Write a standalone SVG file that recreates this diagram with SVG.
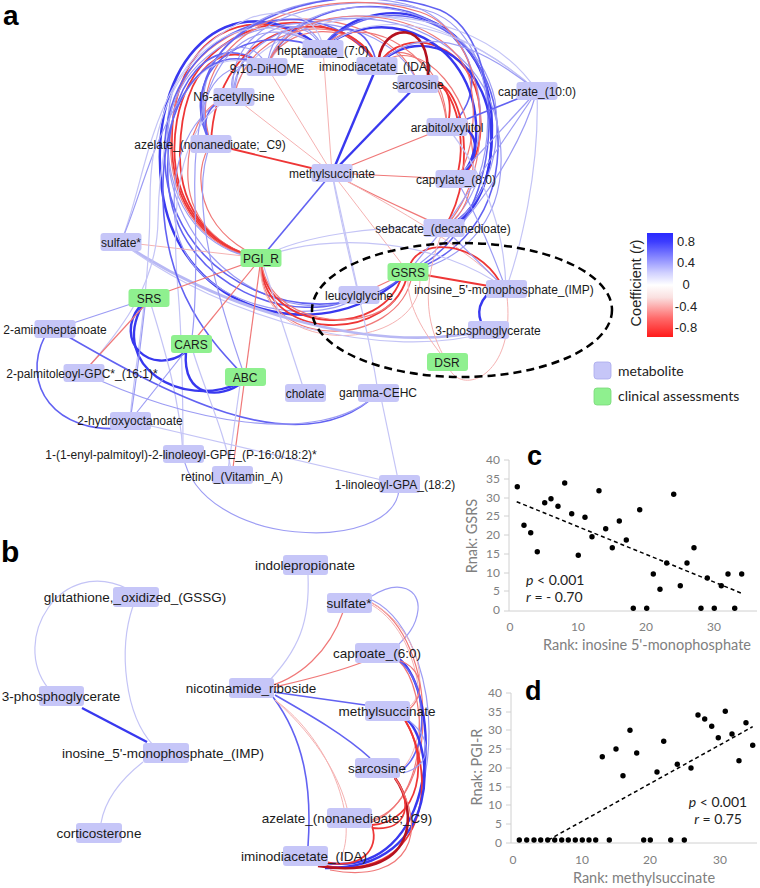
<svg xmlns="http://www.w3.org/2000/svg" width="760" height="888" viewBox="0 0 760 888">
<defs>
<linearGradient id="cb" x1="0" y1="0" x2="0" y2="1">
<stop offset="0" stop-color="#2a2aff"/>
<stop offset="0.08" stop-color="#3b3bff"/>
<stop offset="0.38" stop-color="#cfcfff"/>
<stop offset="0.5" stop-color="#ffffff"/>
<stop offset="0.62" stop-color="#fae0e0"/>
<stop offset="0.82" stop-color="#ff6a6a"/>
<stop offset="1" stop-color="#ff1a1a"/>
</linearGradient>
<style>
.m{fill:#c6c6f8}
.g{fill:#8ff08f}
.ta{font-family:"Liberation Sans",Arial,sans-serif;font-size:12px;fill:#1a1a1a;text-anchor:middle}
.tb{font-family:"Liberation Sans",Arial,sans-serif;font-size:13.5px;fill:#1a1a1a;text-anchor:middle}
.lab{font-family:"Liberation Sans",Arial,sans-serif;font-weight:bold;fill:#000}
.sc{font-family:Lato,"Open Sans",sans-serif;fill:#808080}
.lg{font-family:Lato,"Open Sans",sans-serif;font-size:14px;fill:#222}
#connectors path{fill:none}
.b3{stroke:#3838ef;stroke-width:2.4}
.b2{stroke:#6262f2;stroke-width:1.6}
.b1{stroke:#9c9cf4;stroke-width:1.2}
.b0{stroke:#c4c4f6;stroke-width:1.2}
.bw{stroke:#b8b8f4;stroke-width:2.8}
.r3{stroke:#b5121f;stroke-width:2.6}
.r2{stroke:#ee3636;stroke-width:1.8}
.r1{stroke:#f07878;stroke-width:1.2}
.r0{stroke:#f5b2b2;stroke-width:1}
.dot{fill:#000}
.ax{stroke:#d0d0d0;stroke-width:1;fill:none}
</style>
</defs>
<rect width="760" height="888" fill="#fff"/>

<g id="connectors">
<!-- panel a: left route -->
<path class="r2" d="M323,49 C255,-5 168,30 172,150 C175,220 222,254 261,258"/>
<path class="r2" d="M267,67 C225,35 182,65 180,150 C178,215 218,250 261,258"/>
<path class="r1" d="M234,97 C200,100 186,140 188,180 C191,225 226,252 261,258"/>
<path class="r2" d="M377,66 C335,-5 198,10 177,120 C163,200 210,250 261,258"/>
<path class="r1" d="M418,84 C390,-5 195,-8 174,110 C158,200 205,252 261,258"/>
<path class="r1" d="M211,144 C192,170 195,230 261,258"/>
<path class="b1" d="M323,49 C250,-15 158,35 168,150 C173,225 222,256 261,258"/>
<path class="b2" d="M267,67 C215,25 163,80 168,180 C175,290 300,330 359,295"/>
<path class="b3" d="M323,49 C230,-25 145,60 162,190 C180,320 330,350 408,272"/>
<path class="b1" d="M234,97 C190,110 170,160 175,220 C185,310 320,330 359,295"/>
<path class="b1" d="M418,84 C380,-10 180,5 168,130 C158,260 290,335 359,295"/>
<path class="b2" d="M377,66 C330,-15 175,10 165,140 C155,290 330,345 408,272"/>
<!-- PGI_R red arcs -->
<path class="r2" d="M261,258 C258,345 395,345 408,272"/>
<path class="r2" d="M261,258 C262,335 385,340 402,275"/>
<path class="r1" d="M261,258 C255,355 400,350 412,275"/>
<path class="r1" d="M261,258 C265,325 365,335 395,300"/>
<path class="r0" d="M261,258 C250,360 420,355 420,280"/>
<!-- right route -->
<path class="b3" d="M323,49 C365,-15 490,5 492,125 C493,190 470,222 444,228"/>
<path class="r2" d="M377,66 C405,20 475,45 480,110 C484,150 470,175 456,179"/>
<path class="b2" d="M267,67 C300,-15 440,-10 468,60 C480,95 460,120 447,127"/>
<path class="b1" d="M234,97 C220,15 340,-12 425,10 C505,30 505,185 444,228"/>
<path class="b1" d="M211,144 C170,35 300,-20 405,4 C485,22 500,150 456,179"/>
<path class="b2" d="M323,49 C372,-15 502,10 498,150 C495,232 440,262 408,272"/>
<path class="b0" d="M267,67 C300,-5 430,-5 537,91"/>
<path class="b0" d="M234,97 C245,10 460,-25 537,91"/>
<path class="r2" d="M418,84 C462,60 482,170 444,228"/>
<path class="r1" d="M377,66 C420,28 482,100 472,180 C467,210 455,222 444,228"/>
<path class="r1" d="M377,66 C360,18 282,22 267,67"/>
<path class="r1" d="M377,66 C355,8 250,18 234,97"/>
<path class="r2" d="M377,66 C345,-4 215,18 211,144"/>
<path class="b1" d="M323,49 C310,14 272,20 267,67"/>
<path class="b1" d="M323,49 C300,5 238,28 234,97"/>
<path class="b2" d="M323,49 C336,18 370,24 377,66"/>
<path class="r2" d="M418,84 C445,62 472,130 456,179"/>
<path class="r1" d="M377,66 C395,34 446,60 447,127"/>
<path class="r2" d="M418,84 C442,70 456,96 447,127"/>
<path class="b3" d="M323,49 C382,-2 482,40 476,140 C473,165 462,175 456,179"/>
<path class="b3" d="M377,66 C422,18 497,60 491,150 C488,200 460,222 444,228"/>
<path class="b1" d="M267,67 C290,-20 470,-15 495,100 C505,170 470,220 444,228"/>
<path class="b1" d="M234,97 C225,0 480,-30 500,140 C510,230 450,265 408,272"/>
<path class="r1" d="M211,144 C175,30 320,-20 420,12 C490,35 500,170 444,228"/>
<path class="b2" d="M211,144 C160,30 330,-30 440,10 C510,40 510,230 408,272"/>
<path class="r1" d="M323,49 C350,10 440,40 447,127"/>
<path class="r1" d="M267,67 C290,-10 450,5 470,80 C480,130 465,170 456,179"/>
<path class="r3" d="M379,58 C384,24 430,18 428,76"/>
<path class="b3" d="M447,127 C480,120 485,160 456,179"/>
<!-- left upper -->
<path class="b2" d="M211,144 C175,80 235,15 323,49"/>
<path class="b1" d="M211,144 C190,100 220,55 267,67"/>
<path class="b1" d="M234,97 C225,70 245,58 267,67"/>
<path class="b2" d="M211,144 C198,120 210,100 234,97"/>
<path class="b0" d="M121,242 C150,170 150,60 250,18 C290,5 320,20 323,49"/>
<path class="b1" d="M121,242 C145,190 160,90 230,50 C250,42 262,55 267,67"/>
<path class="bw" d="M121,242 C230,315 380,355 488,330"/>
<path class="b0" d="M121,242 C225,322 390,362 488,332"/>
<path class="r0" d="M121,242 L261,258"/>
<path class="b0" d="M323,49 C240,-10 150,60 150,200 C150,300 132,380 130,421"/>
<path class="b0" d="M267,67 C200,40 160,100 158,220 C157,300 100,350 84,373"/>
<path class="b0" d="M234,97 C180,120 170,200 178,290 C183,350 183,420 183,454"/>
<path class="b2" d="M267,67 C205,35 160,100 163,200 C166,300 220,350 245,377"/>
<path class="b1" d="M323,49 C250,0 190,60 195,200 C197,280 195,320 191,344"/>
<path class="b1" d="M211,144 C185,200 225,320 245,377"/>
<!-- SRS / lower left -->
<path class="r1" d="M149,298 L261,258"/>
<path class="b1" d="M149,298 L55,329"/>
<path class="b3" d="M140,306 C113,340 150,378 186,352"/>
<path class="b3" d="M142,306 C110,365 180,410 240,383"/>
<path class="b3" d="M186,352 C182,398 220,400 243,382"/>
<path class="b1" d="M145,306 C140,350 135,390 130,421"/>
<path class="b0" d="M149,298 C165,350 180,400 183,454"/>
<path class="r1" d="M90,365 L145,305"/>
<path class="r1" d="M261,258 L191,344"/>
<path class="r1" d="M261,258 L245,377"/>
<path class="r1" d="M245,377 L232,475"/>
<path class="b2" d="M45,336 C20,385 55,435 125,428"/>
<path class="b2" d="M55,329 C160,390 300,470 378,393"/>
<path class="b1" d="M84,373 C180,420 320,450 378,393"/>
<path class="b0" d="M130,421 L399,484"/>
<path class="b1" d="M399,490 C392,555 200,548 183,455"/>
<path class="b0" d="M399,484 L380,393"/>
<path class="b0" d="M332,173 C345,250 370,330 378,393"/>
<path class="b0" d="M261,258 L305,393"/>
<path class="b0" d="M232,475 C225,430 200,380 191,344"/>
<path class="b0" d="M228,470 L240,385"/>
<path class="b1" d="M191,344 L130,421"/>
<!-- methylsuccinate -->
<path class="r0" d="M332,173 L323,49"/>
<path class="r0" d="M332,173 L267,67"/>
<path class="r0" d="M332,173 L234,97"/>
<path class="r2" d="M332,173 L211,144"/>
<path class="b3" d="M332,173 L377,66"/>
<path class="b3" d="M332,173 L418,84"/>
<path class="r1" d="M332,173 L447,127"/>
<path class="r1" d="M332,173 L456,179"/>
<path class="r1" d="M332,173 C380,200 420,215 444,228"/>
<path class="b2" d="M332,173 L261,258"/>
<path class="b0" d="M332,173 L359,295"/>
<path class="r0" d="M332,173 L408,272"/>
<path class="r0" d="M332,173 C400,210 470,250 506,289"/>
<!-- caprate -->
<path class="b2" d="M537,91 L447,127"/>
<path class="b1" d="M537,91 L456,179"/>
<path class="b1" d="M537,91 L444,228"/>
<path class="b1" d="M537,91 C520,150 470,230 408,272"/>
<path class="b0" d="M537,91 C470,30 380,0 323,49"/>
<path class="b1" d="M537,91 C480,45 420,20 377,66"/>
<path class="b0" d="M537,91 C540,170 520,250 506,289"/>
<!-- ellipse region -->
<path class="r2" d="M408,272 L506,289"/>
<path class="r2" d="M410,265 C420,238 475,240 500,282"/>
<path class="b3" d="M492,290 C474,305 478,320 486,330"/>
<path class="r0" d="M447,362 C428,330 418,290 444,228"/>
<path class="r0" d="M447,362 C455,400 520,380 506,289"/>
<path class="r0" d="M447,362 C430,340 405,310 408,272"/>
<path class="b1" d="M444,228 L408,272"/>
<path class="b1" d="M444,228 L506,289"/>
<path class="b1" d="M456,179 C480,220 495,260 506,289"/>
<path class="b0" d="M447,127 C490,180 505,240 506,289"/>
<path class="b0" d="M261,258 C300,235 380,225 444,228"/>
<path class="b0" d="M261,258 C330,230 440,240 506,289"/>
<path class="r1" d="M359,295 L408,272"/>

<!-- panel b -->
<path class="b0" d="M128,589 C60,555 10,640 48,688"/>
<path class="b0" d="M133,606 C118,650 125,715 153,745"/>
<path class="b3" d="M82,708 L147,742"/>
<path class="b0" d="M143,762 C120,780 105,800 101,823"/>
<path class="b0" d="M308,575 C310,620 300,650 265,685"/>
<path class="r1" d="M343,612 C330,650 300,680 262,688"/>
<path class="r1" d="M363,662 C330,675 295,682 262,690"/>
<path class="b2" d="M273,692 L365,705"/>
<path class="b2" d="M275,695 C310,715 345,735 370,758"/>
<path class="b2" d="M273,697 C305,740 312,790 308,846"/>
<path class="r0" d="M275,700 C320,740 340,780 347,808"/>
<path class="r0" d="M275,700 C330,740 360,820 340,860"/>
<path class="b1" d="M372,596 C400,578 420,590 418,610 C416,628 405,638 398,645"/>
<path class="r1" d="M372,603 C440,640 440,800 372,820"/>
<path class="b1" d="M372,600 C455,640 455,890 320,862"/>
<path class="r0" d="M372,605 C430,640 430,750 400,770"/>
<path class="r0" d="M372,603 C420,630 430,690 410,706"/>
<path class="b3" d="M398,658 C442,690 445,885 320,862"/>
<path class="r1" d="M398,660 C430,690 430,800 372,822"/>
<path class="b2" d="M398,660 C428,680 430,750 402,770"/>
<path class="r1" d="M398,660 C425,668 425,698 408,710"/>
<path class="r2" d="M405,720 C440,780 425,885 320,865"/>
<path class="b3" d="M405,718 C435,740 445,870 325,868"/>
<path class="r2" d="M405,720 C430,760 420,822 372,825"/>
<path class="b1" d="M405,718 C432,735 435,765 403,773"/>
<path class="r3" d="M395,778 C418,810 420,882 318,866"/>
<path class="r2" d="M395,778 C412,800 410,832 372,828"/>
<path class="r1" d="M395,778 C430,830 410,885 330,870"/>
<path class="r2" d="M372,826 C380,850 360,870 325,862"/>
</g>

<ellipse cx="462" cy="310" rx="150" ry="67" fill="none" stroke="#000" stroke-width="2.5" stroke-dasharray="8 5"/>

<!-- panel a nodes -->
<g id="n-hep"><rect class="m" x="302.5" y="40" width="41" height="18" rx="3"/><text class="ta" x="323" y="55">heptanoate_(7:0)</text></g>
<g id="n-dih"><rect class="m" x="246.5" y="58" width="41" height="18" rx="3"/><text class="ta" x="267" y="73">9,10-DiHOME</text></g>
<g id="n-ida"><rect class="m" x="356.5" y="57" width="41" height="18" rx="3"/><text class="ta" x="375" y="71">iminodiacetate_(IDA)</text></g>
<g id="n-sar"><rect class="m" x="397.5" y="75" width="41" height="18" rx="3"/><text class="ta" x="418" y="89">sarcosine</text></g>
<g id="n-n6"><rect class="m" x="213.5" y="88" width="41" height="18" rx="3"/><text class="ta" x="234" y="101">N6-acetyllysine</text></g>
<g id="n-cap10"><rect class="m" x="516.5" y="82" width="41" height="18" rx="3"/><text class="ta" x="537" y="96">caprate_(10:0)</text></g>
<g id="n-arab"><rect class="m" x="426.5" y="118" width="41" height="18" rx="3"/><text class="ta" x="447" y="132">arabitol/xylitol</text></g>
<g id="n-aze"><rect class="m" x="190.5" y="135" width="41" height="18" rx="3"/><text class="ta" x="210" y="149">azelate_(nonanedioate;_C9)</text></g>
<g id="n-mes"><rect class="m" x="311.5" y="164" width="41" height="18" rx="3"/><text class="ta" x="332" y="178">methylsuccinate</text></g>
<g id="n-cap8"><rect class="m" x="435.5" y="170" width="41" height="18" rx="3"/><text class="ta" x="456" y="184">caprylate_(8:0)</text></g>
<g id="n-seb"><rect class="m" x="423.5" y="219" width="41" height="18" rx="3"/><text class="ta" x="443" y="233">sebacate_(decanedioate)</text></g>
<g id="n-sul"><rect class="m" x="100.5" y="233" width="41" height="18" rx="3"/><text class="ta" x="121" y="247">sulfate*</text></g>
<g id="n-pgi"><rect class="g" x="240.5" y="249" width="41" height="18" rx="3"/><text class="ta" x="261" y="263">PGI_R</text></g>
<g id="n-srs"><rect class="g" x="128.5" y="289" width="41" height="18" rx="3"/><text class="ta" x="149" y="303">SRS</text></g>
<g id="n-leu"><rect class="m" x="338.5" y="286" width="41" height="18" rx="3"/><text class="ta" x="359" y="300">leucylglycine</text></g>
<g id="n-gsrs"><rect class="g" x="387.5" y="263" width="41" height="18" rx="3"/><text class="ta" x="408" y="277">GSRS</text></g>
<g id="n-imp"><rect class="m" x="486" y="280" width="41" height="18" rx="3"/><text class="ta" x="504" y="294">inosine_5'-monophosphate_(IMP)</text></g>
<g id="n-pg3"><rect class="m" x="468" y="321" width="41" height="18" rx="3"/><text class="ta" x="488" y="335">3-phosphoglycerate</text></g>
<g id="n-dsr"><rect class="g" x="427" y="353" width="41" height="18" rx="3"/><text class="ta" x="447" y="367">DSR</text></g>
<g id="n-amh"><rect class="m" x="34.5" y="320" width="41" height="18" rx="3"/><text class="ta" x="55" y="334">2-aminoheptanoate</text></g>
<g id="n-cars"><rect class="g" x="171" y="335" width="41" height="18" rx="3"/><text class="ta" x="191" y="349">CARS</text></g>
<g id="n-palm"><rect class="m" x="63.5" y="364" width="41" height="18" rx="3"/><text class="ta" x="82" y="378">2-palmitoleoyl-GPC*_(16:1)*</text></g>
<g id="n-abc"><rect class="g" x="225" y="368" width="41" height="18" rx="3"/><text class="ta" x="245" y="382">ABC</text></g>
<g id="n-chol"><rect class="m" x="285" y="384" width="41" height="18" rx="3"/><text class="ta" x="305" y="398">cholate</text></g>
<g id="n-gam"><rect class="m" x="358" y="384" width="41" height="18" rx="3"/><text class="ta" x="378" y="397">gamma-CEHC</text></g>
<g id="n-hyd"><rect class="m" x="110" y="412" width="41" height="18" rx="3"/><text class="ta" x="130" y="425">2-hydroxyoctanoate</text></g>
<g id="n-gpe"><rect class="m" x="163" y="445" width="41" height="18" rx="3"/><text class="ta" x="181" y="459">1-(1-enyl-palmitoyl)-2-linoleoyl-GPE_(P-16:0/18:2)*</text></g>
<g id="n-ret"><rect class="m" x="212" y="466" width="41" height="18" rx="3"/><text class="ta" x="232" y="481">retinol_(Vitamin_A)</text></g>
<g id="n-gpa"><rect class="m" x="379" y="475" width="41" height="18" rx="3"/><text class="ta" x="395" y="489">1-linoleoyl-GPA_(18:2)</text></g>

<!-- panel b nodes -->
<g id="b-ind"><rect class="m" x="283" y="555" width="45" height="20" rx="3"/><text class="tb" x="305" y="570">indolepropionate</text></g>
<g id="b-sul"><rect class="m" x="327" y="593" width="45" height="20" rx="3"/><text class="tb" x="349" y="608">sulfate*</text></g>
<g id="b-cap"><rect class="m" x="355" y="643" width="45" height="20" rx="3"/><text class="tb" x="377" y="658">caproate_(6:0)</text></g>
<g id="b-nic"><rect class="m" x="229" y="678" width="45" height="20" rx="3"/><text class="tb" x="251" y="693">nicotinamide_riboside</text></g>
<g id="b-mes"><rect class="m" x="365" y="701" width="45" height="20" rx="3"/><text class="tb" x="387" y="716">methylsuccinate</text></g>
<g id="b-sar"><rect class="m" x="355" y="758" width="45" height="20" rx="3"/><text class="tb" x="377" y="773">sarcosine</text></g>
<g id="b-aze"><rect class="m" x="327" y="808" width="45" height="20" rx="3"/><text class="tb" x="347" y="823">azelate_(nonanedioate;_C9)</text></g>
<g id="b-ida"><rect class="m" x="283" y="846" width="45" height="20" rx="3"/><text class="tb" x="304" y="861">iminodiacetate_(IDA)</text></g>
<g id="b-gssg"><rect class="m" x="113" y="587" width="46" height="20" rx="3"/><text class="tb" x="135" y="602">glutathione,_oxidized_(GSSG)</text></g>
<g id="b-pg3"><rect class="m" x="39" y="686" width="45" height="20" rx="3"/><text class="tb" x="61" y="701">3-phosphoglycerate</text></g>
<g id="b-imp"><rect class="m" x="143" y="743" width="46" height="20" rx="3"/><text class="tb" x="163" y="758">inosine_5'-monophosphate_(IMP)</text></g>
<g id="b-cort"><rect class="m" x="76" y="823" width="46" height="20" rx="3"/><text class="tb" x="99" y="838">corticosterone</text></g>

<!-- panel labels -->
<text class="lab" x="3" y="25" font-size="28">a</text>
<text class="lab" x="1" y="562" font-size="30">b</text>

<!-- legend -->
<g id="legend">
<rect x="647" y="233" width="26" height="104" fill="url(#cb)"/>
<g font-family="Liberation Sans, Arial, sans-serif" font-size="13" fill="#222" text-anchor="middle">
<text x="686" y="246">0.8</text>
<text x="686" y="267">0.4</text>
<text x="686" y="289">0</text>
<text x="686" y="311">-0.4</text>
<text x="686" y="332">-0.8</text>
</g>
<text transform="translate(641,283) rotate(-90)" font-family="Liberation Sans, Arial, sans-serif" font-size="14.5" fill="#222" text-anchor="middle">Coefficient (<tspan font-style="italic">r</tspan>)</text>
<rect x="594" y="362" width="17" height="17" rx="3" class="m" stroke="#aaaaec" stroke-width="0.8"/>
<text class="lg" x="618" y="376">metabolite</text>
<rect x="594" y="388" width="17" height="17" rx="3" class="g" stroke="#78d878" stroke-width="0.8"/>
<text class="lg" x="618" y="401">clinical assessments</text>
</g>

<!-- panel c -->
<g id="plot-c">
<line class="ax" x1="509" y1="460" x2="509" y2="611"/>
<line class="ax" x1="509" y1="611" x2="757" y2="611"/>
<g stroke="#d0d0d0"><line x1="504" y1="460" x2="509" y2="460"/><line x1="504" y1="479" x2="509" y2="479"/><line x1="504" y1="498" x2="509" y2="498"/><line x1="504" y1="516" x2="509" y2="516"/><line x1="504" y1="535" x2="509" y2="535"/><line x1="504" y1="554" x2="509" y2="554"/><line x1="504" y1="573" x2="509" y2="573"/><line x1="504" y1="591" x2="509" y2="591"/><line x1="504" y1="611" x2="509" y2="611"/></g>
<g class="sc" font-size="12" text-anchor="end">
<text x="500" y="464">40</text><text x="500" y="483">35</text><text x="500" y="502">30</text><text x="500" y="520">25</text><text x="500" y="539">20</text><text x="500" y="558">15</text><text x="500" y="577">10</text><text x="500" y="595">5</text><text x="500" y="614">0</text>
</g>
<g class="sc" font-size="12" text-anchor="middle">
<text x="510" y="631">0</text><text x="578" y="631">10</text><text x="646" y="631">20</text><text x="714" y="631">30</text>
</g>
<text class="sc" font-size="14.5" fill="#707070" x="647" y="650" text-anchor="middle">Rank: inosine 5'-monophosphate</text>
<text class="sc" font-size="14.5" transform="translate(477,536) rotate(-90)" text-anchor="middle">Rnak: GSRS</text>
<text class="lab" x="527" y="465" font-size="27">c</text>
<line x1="516.7" y1="501.7" x2="741.7" y2="593.3" stroke="#000" stroke-width="1.5" stroke-dasharray="4 3"/>
<g class="dot">
<circle cx="517.3" cy="486.7" r="2.7"/><circle cx="524" cy="525.3" r="2.7"/><circle cx="530.7" cy="532.7" r="2.7"/><circle cx="537.3" cy="551.7" r="2.7"/><circle cx="544.7" cy="502.7" r="2.7"/><circle cx="551" cy="498.7" r="2.7"/><circle cx="558" cy="506.3" r="2.7"/><circle cx="564.7" cy="483" r="2.7"/><circle cx="571.7" cy="513.7" r="2.7"/><circle cx="578.3" cy="555.3" r="2.7"/><circle cx="585" cy="517.3" r="2.7"/><circle cx="592" cy="536.7" r="2.7"/><circle cx="599" cy="490.7" r="2.7"/><circle cx="605.7" cy="528.7" r="2.7"/><circle cx="612.3" cy="547.7" r="2.7"/><circle cx="619.3" cy="521" r="2.7"/><circle cx="626.3" cy="540" r="2.7"/><circle cx="633.3" cy="608.3" r="2.7"/><circle cx="639.7" cy="509.7" r="2.7"/><circle cx="646.7" cy="608.3" r="2.7"/><circle cx="653.3" cy="574" r="2.7"/><circle cx="660" cy="589.3" r="2.7"/><circle cx="666.7" cy="563" r="2.7"/><circle cx="673.7" cy="494.3" r="2.7"/><circle cx="680.3" cy="585.7" r="2.7"/><circle cx="687" cy="563" r="2.7"/><circle cx="694" cy="547.7" r="2.7"/><circle cx="701" cy="608.3" r="2.7"/><circle cx="707.3" cy="578" r="2.7"/><circle cx="714.3" cy="608.3" r="2.7"/><circle cx="721.3" cy="585.7" r="2.7"/><circle cx="728" cy="574" r="2.7"/><circle cx="734.7" cy="608.3" r="2.7"/><circle cx="741.7" cy="574" r="2.7"/>
</g>
<text class="lg" x="526" y="585" font-size="14.5" fill="#000"><tspan font-style="italic">p</tspan> &lt; 0.001</text>
<text class="lg" x="526" y="602" font-size="14.5" fill="#000"><tspan font-style="italic">r</tspan> = - 0.70</text>
</g>

<!-- panel d -->
<g id="plot-d">
<line class="ax" x1="511" y1="693" x2="511" y2="843"/>
<line class="ax" x1="511" y1="843" x2="757" y2="843"/>
<g stroke="#d0d0d0"><line x1="506" y1="693" x2="511" y2="693"/><line x1="506" y1="712" x2="511" y2="712"/><line x1="506" y1="730" x2="511" y2="730"/><line x1="506" y1="749" x2="511" y2="749"/><line x1="506" y1="768" x2="511" y2="768"/><line x1="506" y1="787" x2="511" y2="787"/><line x1="506" y1="805" x2="511" y2="805"/><line x1="506" y1="824" x2="511" y2="824"/><line x1="506" y1="843" x2="511" y2="843"/></g>
<g class="sc" font-size="12" text-anchor="end">
<text x="502" y="697">40</text><text x="502" y="716">35</text><text x="502" y="734">30</text><text x="502" y="753">25</text><text x="502" y="772">20</text><text x="502" y="791">15</text><text x="502" y="809">10</text><text x="502" y="828">5</text><text x="502" y="847">0</text>
</g>
<g class="sc" font-size="12" text-anchor="middle">
<text x="513" y="864">0</text><text x="582" y="864">10</text><text x="650" y="864">20</text><text x="720" y="864">30</text>
</g>
<text class="sc" font-size="14.5" fill="#707070" x="644" y="883" text-anchor="middle">Rank: methylsuccinate</text>
<text class="sc" font-size="14.5" transform="translate(482,767) rotate(-90)" text-anchor="middle">Rnak: PGI-R</text>
<text class="lab" x="525" y="700" font-size="27">d</text>
<line x1="548.3" y1="840" x2="752.7" y2="726.7" stroke="#000" stroke-width="1.5" stroke-dasharray="4 3"/>
<g class="dot">
<circle cx="519.3" cy="840" r="2.7"/><circle cx="526.7" cy="840" r="2.7"/><circle cx="534" cy="840" r="2.7"/><circle cx="540.7" cy="840" r="2.7"/><circle cx="547.7" cy="840" r="2.7"/><circle cx="554.7" cy="840" r="2.7"/><circle cx="561.7" cy="840" r="2.7"/><circle cx="568.3" cy="840" r="2.7"/><circle cx="575.3" cy="840" r="2.7"/><circle cx="582.3" cy="840" r="2.7"/><circle cx="589" cy="840" r="2.7"/><circle cx="595.7" cy="840" r="2.7"/><circle cx="609.3" cy="840" r="2.7"/><circle cx="643.7" cy="840" r="2.7"/><circle cx="650.3" cy="840" r="2.7"/><circle cx="670.7" cy="840" r="2.7"/><circle cx="684.3" cy="840" r="2.7"/>
<circle cx="602.3" cy="756.7" r="2.7"/><circle cx="616" cy="749" r="2.7"/><circle cx="623" cy="775.7" r="2.7"/><circle cx="630" cy="730.3" r="2.7"/><circle cx="636.7" cy="753" r="2.7"/><circle cx="657" cy="772" r="2.7"/><circle cx="663.7" cy="741.3" r="2.7"/><circle cx="677.3" cy="764.3" r="2.7"/><circle cx="691" cy="768" r="2.7"/><circle cx="698" cy="715" r="2.7"/><circle cx="704.7" cy="719" r="2.7"/><circle cx="711.7" cy="726.3" r="2.7"/><circle cx="718.3" cy="737.7" r="2.7"/><circle cx="725.3" cy="711.3" r="2.7"/><circle cx="732" cy="734" r="2.7"/><circle cx="739" cy="760.7" r="2.7"/><circle cx="746" cy="722.7" r="2.7"/><circle cx="752.7" cy="745.3" r="2.7"/>
</g>
<text class="lg" x="718" y="807" font-size="14.5" fill="#000" text-anchor="middle"><tspan font-style="italic">p</tspan> &lt; 0.001</text>
<text class="lg" x="718" y="824" font-size="14.5" fill="#000" text-anchor="middle"><tspan font-style="italic">r</tspan> = 0.75</text>
</g>
</svg>
